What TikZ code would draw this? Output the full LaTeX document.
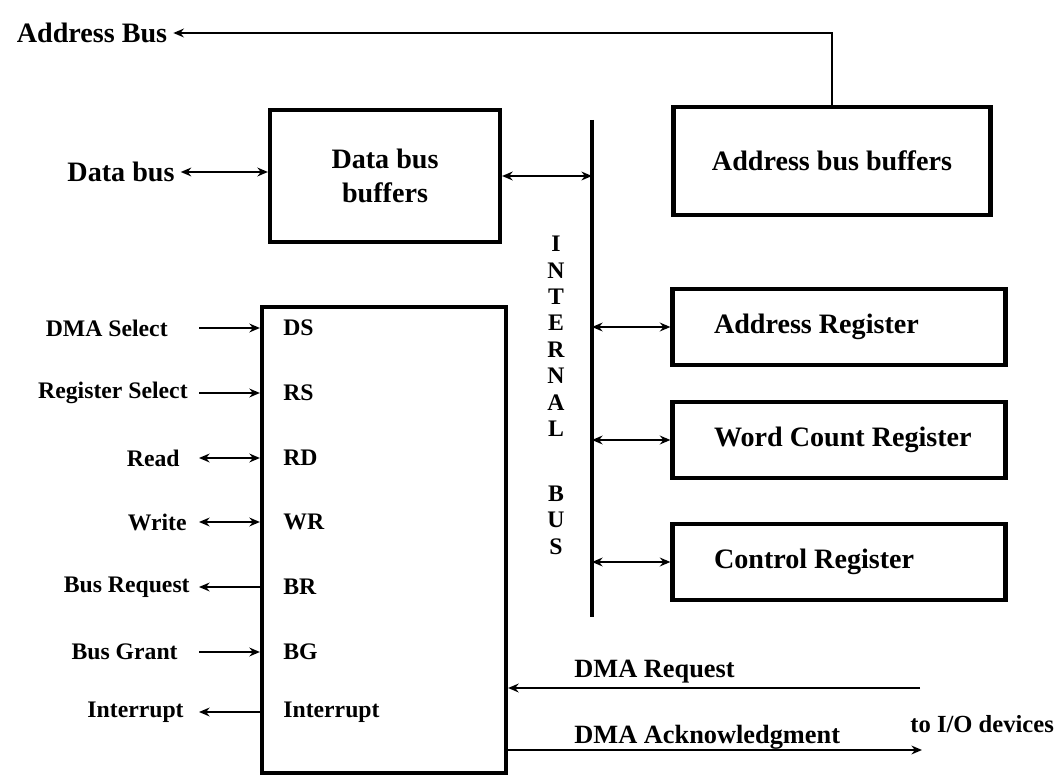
\documentclass[tikz,border=0pt]{standalone}
\usepackage{fontspec}
\setmainfont{Liberation Serif}
\usetikzlibrary{arrows.meta, positioning}

\newcommand{\regtext}[1]{\makebox[5.0cm][l]{#1}}

\begin{document}
\begin{tikzpicture}[
            x=0.02cm, y=-0.02cm,
            txt/.style={font=\fontsize{16}{19}\selectfont\bfseries},
            pinlbl/.style={font=\fontsize{13.5}{15}\selectfont\bfseries, inner sep=0pt},
            box/.style={draw, line width=2.4pt, txt, align=center, inner sep=0pt},
            reg/.style={box, minimum width=6.66cm, minimum height=1.52cm},
            sig/.style={line width=1.6pt},
            arrow/.style={sig, -{Stealth[length=6pt, width=5pt]}},
            bidir/.style={sig, {Stealth[length=6pt, width=5pt]}-{Stealth[length=6pt, width=5pt]}}
        ]
            \useasboundingbox (0,0) rectangle (1064,776);

            % upper part
            \node[txt] (abus) at (92,33) {Address Bus};
            \node[txt] (dbus) at (121,172) {Data bus};
            \node[box, minimum width=4.6cm, minimum height=2.64cm] (dbb) at (385,176) {Data bus\\buffers};
            \node[box, minimum width=6.34cm, minimum height=2.16cm] (abb) at (832,161) {Address bus buffers};

            % internal bus
            \coordinate (bustop) at (592,120);
            \coordinate (busbot) at (592,617);
            \node[pinlbl, align=center, anchor=north] (busname) at (556,236) {I\\N\\T\\E\\R\\N\\A\\L\\[22pt]B\\U\\S};

            % registers
            \node[reg] (areg) at (839,327) {\regtext{Address Register}};
            \node[reg] (wreg) at (839,440) {\regtext{Word Count Register}};
            \node[reg] (creg) at (839,562) {\regtext{Control Register}};

            % DMA controller with its pins
            \node[box, minimum width=4.88cm, minimum height=9.32cm] (dma) at (384,540) {};
            \node[pinlbl, anchor=west] (ds) at (283,328) {DS};
            \node[pinlbl, anchor=west] (rs) at (283,393) {RS};
            \node[pinlbl, anchor=west] (rd) at (283,458) {RD};
            \node[pinlbl, anchor=west] (wr) at (283,522) {WR};
            \node[pinlbl, anchor=west] (br) at (283,587) {BR};
            \node[pinlbl, anchor=west] (bg) at (283,652) {BG};
            \node[pinlbl, anchor=west] (intr) at (283,712) {Interrupt};

            \node[pinlbl, anchor=east] (dsel) at (168,328) {DMA Select};
            \node[pinlbl, anchor=east] (rsel) at (188,393) {Register Select};
            \node[pinlbl, anchor=east] (read) at (180,458) {Read};
            \node[pinlbl, anchor=east] (write) at (187,522) {Write};
            \node[pinlbl, anchor=east] (breq) at (190,587) {Bus Request};
            \node[pinlbl, anchor=east] (bgnt) at (178,652) {Bus Grant};
            \node[pinlbl, anchor=east] (irq) at (184,712) {Interrupt};
            \coordinate (lcol) at (199,0);

            % I/O side
            \coordinate (ioreq) at (920,688);
            \coordinate (ioack) at (922,750);
            \node[txt, font=\fontsize{15}{17}\selectfont\bfseries, anchor=west, inner sep=0pt] (reqlbl) at (574,672) {DMA Request};
            \node[txt, font=\fontsize{15}{17}\selectfont\bfseries, anchor=west, inner sep=0pt] (acklbl) at (574,737) {DMA Acknowledgment};
            \node[txt, font=\fontsize{14}{16}\selectfont\bfseries, anchor=west, inner sep=0pt] (iodev) at (910,724) {to I/O devices};

            \draw[line width=2.6pt] (bustop) -- (busbot);
            \draw[arrow] (abb.north) |- (abus.east);
            \draw[bidir] (dbus.east) -- (dbus.east -| dbb.west);
            \draw[bidir] (dbb.east) -- (bustop |- dbb.east);
            \draw[bidir] (bustop |- areg) -- (areg.west);
            \draw[bidir] (bustop |- wreg) -- (wreg.west);
            \draw[bidir] (bustop |- creg) -- (creg.west);

            \draw[arrow] (lcol |- ds) -- (dma.west |- ds);
            \draw[arrow] (lcol |- rs) -- (dma.west |- rs);
            \draw[bidir] (lcol |- rd) -- (dma.west |- rd);
            \draw[bidir] (lcol |- wr) -- (dma.west |- wr);
            \draw[arrow] (dma.west |- br) -- (lcol |- br);
            \draw[arrow] (lcol |- bg) -- (dma.west |- bg);
            \draw[arrow] (dma.west |- intr) -- (lcol |- intr);

            \draw[arrow] (ioreq) -- (ioreq -| dma.east);
            \draw[arrow] (dma.east |- ioack) -- (ioack);
        \end{tikzpicture}
\end{document}
